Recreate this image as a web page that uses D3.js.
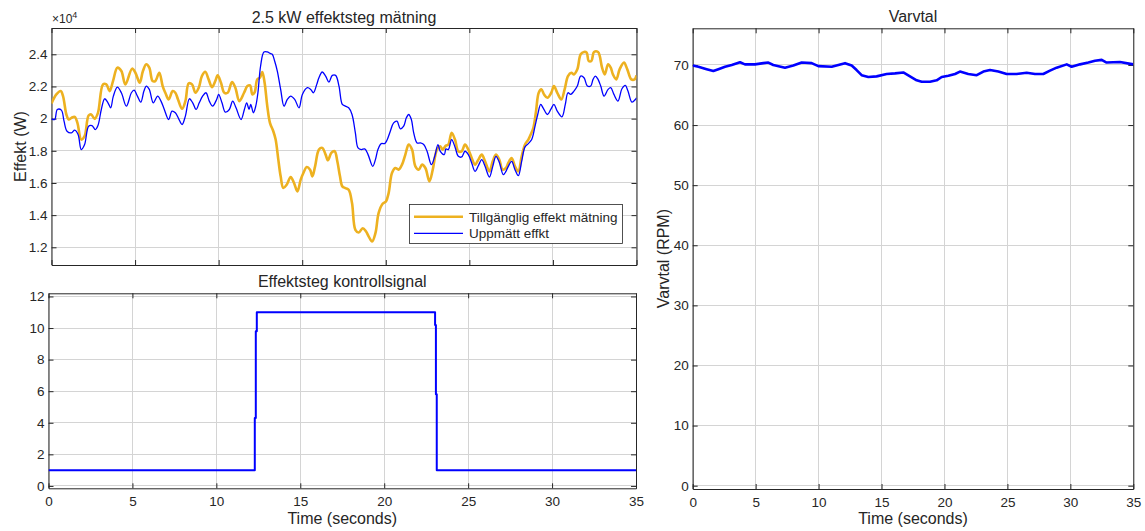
<!DOCTYPE html>
<html><head><meta charset="utf-8">
<script src="https://cdn.jsdelivr.net/npm/d3@7"></script>
<style>
body{margin:0;background:#fff}
svg{display:block}
text{font-family:"Liberation Sans",Arial,Helvetica,sans-serif;fill:#262626}
</style>
</head><body><svg id="c" width="1145" height="531"></svg>
<script>
// ---------- data ----------
const timeTicks=[0,5,10,15,20,25,30,35];
const effektTicks=[12000,14000,16000,18000,20000,22000,24000];
const effektTickLabels=["1.2","1.4","1.6","1.8","2","2.2","2.4"];
const controlTicks=[0,2,4,6,8,10,12];
const rpmTicks=[0,10,20,30,40,50,60,70];

const availTime=[0,0.29,0.55,0.69,0.89,1.03,1.19,1.39,1.55,1.78,1.98,2.22,2.38,2.58,2.78,3.08,3.28,3.48,3.68,3.94,4.18,4.42,4.82,5.02,5.28,5.47,5.67,5.85,6.05,6.21,6.45,6.65,6.81,7.01,7.25,7.41,7.57,7.81,8.01,8.21,8.41,8.61,8.81,9.00,9.20,9.40,9.60,9.80,9.94,10.14,10.34,10.54,10.80,11.00,11.24,11.52,11.72,11.88,12.02,12.16,12.31,12.47,12.61,12.75,12.91,13.07,13.27,13.41,13.57,13.71,13.87,14.07,14.31,14.51,14.71,14.91,15.07,15.27,15.47,15.61,15.77,16.00,16.20,16.40,16.54,16.74,16.94,17.10,17.26,17.40,17.58,17.78,17.98,18.18,18.38,18.62,18.82,18.98,19.18,19.38,19.57,19.81,20.01,20.17,20.37,20.57,20.77,20.97,21.17,21.37,21.57,21.77,21.97,22.17,22.37,22.61,22.81,23.06,23.26,23.40,23.60,23.74,23.94,24.14,24.34,24.54,24.74,24.94,25.14,25.34,25.54,25.74,25.94,26.20,26.40,26.59,26.79,26.99,27.19,27.33,27.53,27.73,27.93,28.13,28.33,28.53,28.67,28.83,28.99,29.15,29.31,29.47,29.67,29.90,30.06,30.26,30.50,30.70,30.90,31.10,31.26,31.46,31.66,31.86,32.02,32.14,32.30,32.46,32.70,32.80,32.94,33.10,33.30,33.46,33.59,33.79,33.99,34.25,34.45,34.69,34.89,35.00];
const availPower=[20950,21505,21713,21401,20258,19946,20050,20112,19738,18699,18906,20196,20258,19988,20362,22129,22129,21713,22337,23168,22960,22129,23106,22856,22233,22960,23376,23168,22337,22337,22856,22025,21609,21193,21713,21609,21193,20611,21089,22191,22129,21609,21921,22649,22919,22441,21962,22337,22690,22233,21609,21609,22274,21921,21089,21609,22025,22066,21505,21651,22441,22545,22898,22233,20777,19738,19218,18699,17451,16411,15684,15892,16370,15996,15476,16204,16619,16994,16827,16411,17035,18075,18179,17763,17409,17867,17971,17347,16411,15788,15684,15580,14748,13085,12919,13189,12981,12669,12357,12877,14125,14707,14852,15372,16619,16931,16827,17139,17763,18387,18075,17035,16827,17139,16931,16100,16827,18075,18283,18075,18324,18387,19114,18699,17971,17971,18387,18075,17555,17139,17451,17763,17347,16723,17347,17763,17451,16827,16931,17243,17555,17035,16723,17659,18387,18699,19010,19426,20466,21609,21817,21505,21297,21609,22025,21609,21193,21817,22649,22856,22753,23064,24000,24145,24104,23584,23584,24145,24145,23896,23168,22753,23376,23168,22753,22441,23064,23480,23064,22441,22441,22690];

const measTime=[0,0.19,0.35,0.59,0.75,0.93,1.19,1.39,1.59,1.78,1.98,2.22,2.42,2.62,2.78,2.98,3.18,3.38,3.54,3.70,3.94,4.18,4.48,4.78,4.94,5.14,5.34,5.53,5.67,5.85,6.09,6.35,6.55,6.75,7.01,7.21,7.41,7.61,7.81,8.01,8.25,8.45,8.65,8.84,9.04,9.24,9.44,9.64,9.88,10.00,10.20,10.40,10.64,10.84,11.04,11.34,11.54,11.68,11.82,11.92,12.08,12.22,12.35,12.51,12.71,12.91,13.07,13.21,13.35,13.51,13.71,13.91,14.11,14.31,14.55,14.81,15.01,15.31,15.51,15.67,15.87,16.00,16.20,16.40,16.60,16.80,17.00,17.20,17.40,17.58,17.78,17.98,18.18,18.34,18.54,18.74,18.94,19.22,19.38,19.53,19.73,19.93,20.07,20.27,20.47,20.67,20.87,21.07,21.23,21.37,21.53,21.67,21.87,22.07,22.27,22.47,22.73,22.93,23.12,23.26,23.50,23.60,23.74,23.94,24.14,24.34,24.54,24.74,24.94,25.14,25.34,25.54,25.74,25.94,26.20,26.40,26.59,26.79,27.03,27.19,27.33,27.53,27.73,27.93,28.13,28.33,28.53,28.73,28.93,29.09,29.27,29.41,29.67,29.87,30.06,30.26,30.54,30.74,30.90,31.06,31.26,31.46,31.66,31.86,32.06,32.26,32.40,32.54,32.70,32.86,33.06,33.30,33.46,33.65,33.89,34.13,34.33,34.49,34.73,34.93,35.00];
const measPower=[19988,19946,20570,20528,19842,19218,19114,19281,19010,18075,18387,19530,19572,19322,19572,20570,21235,20985,20673,21401,21962,21609,20777,21609,21775,21401,21027,21713,22025,21817,20985,21401,21089,20570,19946,20466,20362,19988,19634,20154,21235,20985,20570,20985,21401,21609,21089,20777,21193,21505,20985,20403,20570,21089,20673,19946,20570,20985,20570,20881,20362,20777,21609,23272,24145,24145,24062,24000,23584,22960,21817,20777,21193,21401,21193,20673,21505,21921,21817,21609,22129,22545,22898,22649,22274,22690,22690,22025,20881,20777,20673,20258,19114,18179,18075,18116,17763,17035,17451,18075,18449,18449,18657,19218,19738,19842,19364,19530,20050,20258,19946,19114,18490,18490,18387,17971,17139,17659,18387,17971,17763,18116,18075,18699,18241,17659,17617,17971,17763,17243,16723,17077,17451,17035,16370,17035,17659,17285,16515,16723,17035,17347,16827,16453,17347,18241,18449,18699,19530,20258,20881,20673,20258,20570,20881,20466,20112,20881,21609,21505,21713,22025,22649,22545,22025,22025,22441,22649,22441,22025,21401,21817,21921,21505,21089,21858,22066,21713,21027,21193,21297];

const controlTime=[0,12.29,12.35,12.41,23.03,23.08,23.13,35];
const controlValue=[1,4.3,9.8,11,10.2,5.8,1,1];

const rpmTime=[0,0.45,1.11,1.64,2.04,2.57,3.10,3.76,4.15,4.95,5.61,6.01,6.40,7.33,7.99,8.66,9.45,9.98,11.04,12.10,12.63,13.02,13.42,13.95,14.61,15.41,16.07,16.73,17.26,17.79,18.19,18.85,19.38,19.78,20.31,20.84,21.23,21.89,22.56,23.09,23.62,24.28,24.94,25.73,26.53,27.19,27.85,28.38,28.91,29.71,30.10,30.77,31.43,31.96,32.49,32.88,33.41,33.94,35];
const rpmValue=[69.9,69.7,69.3,69.0,69.3,69.7,70.0,70.45,70.1,70.1,70.3,70.4,70.0,69.55,69.9,70.4,70.3,69.8,69.7,70.3,69.9,69.15,68.3,68.0,68.1,68.5,68.6,68.75,68.1,67.45,67.2,67.2,67.45,68.0,68.2,68.5,68.9,68.5,68.3,68.9,69.15,68.9,68.5,68.5,68.7,68.5,68.5,69.05,69.55,70.1,69.7,70.1,70.4,70.7,70.85,70.4,70.45,70.5,70.1];

const seriesNames=["Tillgänglig effekt mätning","Uppmätt effkt"];
const colAvail="#EDB120", colMeas="#0000FF";

// ---------- drawing ----------
const svg=d3.select("#c");
const TICKFS=13.5, LABFS=16, AXC="#262626", GRID="#d4d4d4";

function panel(box,xDom,yDom,xTicks,yTicks,yFmt,showXLabels,id){
  const g=svg.append("g");
  const x=d3.scaleLinear(xDom,[box.l,box.r]);
  const y=d3.scaleLinear(yDom,[box.b,box.t]);
  g.append("defs").append("clipPath").attr("id",id).append("rect")
    .attr("x",box.l).attr("y",box.t).attr("width",box.r-box.l).attr("height",box.b-box.t);
  const grid=g.append("g").attr("shape-rendering","crispEdges");
  grid.selectAll(".vx").data(xTicks).join("line")
    .attr("x1",d=>x(d)).attr("x2",d=>x(d)).attr("y1",box.t).attr("y2",box.b)
    .attr("stroke",GRID).attr("stroke-width",1);
  grid.selectAll(".hy").data(yTicks).join("line")
    .attr("x1",box.l).attr("x2",box.r).attr("y1",d=>y(d)).attr("y2",d=>y(d))
    .attr("stroke",GRID).attr("stroke-width",1);
  const axes=g.append("g");
  const style=a=>{a.attr("font-family",null).attr("font-size",TICKFS);
    a.selectAll("path,line").attr("stroke",AXC);
    a.selectAll("text").attr("fill",AXC);};
  axes.append("g").attr("transform",`translate(${box.l},0)`)
    .call(d3.axisLeft(y).tickValues(yTicks).tickSize(-5).tickSizeOuter(0).tickPadding(4).tickFormat(yFmt)).call(style);
  axes.append("g").attr("transform",`translate(${box.r},0)`)
    .call(d3.axisRight(y).tickValues(yTicks).tickSize(-5).tickSizeOuter(0).tickFormat("")).call(style);
  axes.append("g").attr("transform",`translate(0,${box.b})`)
    .call(d3.axisBottom(x).tickValues(xTicks).tickSize(-5).tickSizeOuter(0).tickPadding(8)
      .tickFormat(showXLabels?d3.format("d"):"")).call(style);
  axes.append("g").attr("transform",`translate(0,${box.t})`)
    .call(d3.axisTop(x).tickValues(xTicks).tickSize(-5).tickSizeOuter(0).tickFormat("")).call(style);
  const plot=g.append("g").attr("clip-path",`url(#${id})`);
  return {g,x,y,plot,box};
}

function drawLine(p,ts,vs,color,w,curve){
  const pts=ts.map((t,i)=>[t,vs[i]]);
  p.plot.append("path").datum(pts)
    .attr("fill","none").attr("stroke",color).attr("stroke-width",w)
    .attr("stroke-linejoin","round")
    .attr("d",d3.line().x(d=>p.x(d[0])).y(d=>p.y(d[1])).curve(curve||d3.curveLinear));
}

// Top-left
const p1=panel({l:51.5,r:636.5,t:28,b:265},[0,35],[10900,25635],timeTicks,effektTicks,
  (d,i)=>effektTickLabels[effektTicks.indexOf(d)],false,"cp1");
drawLine(p1,availTime,availPower,colAvail,2.6,d3.curveCatmullRom.alpha(0.5));
drawLine(p1,measTime,measPower,colMeas,1.3,d3.curveCatmullRom.alpha(0.5));

// Bottom-left
const p2=panel({l:48.5,r:636,t:293.3,b:488.3},[0,35],[-0.15,12.2],timeTicks,controlTicks,d3.format("d"),true,"cp2");
drawLine(p2,controlTime,controlValue,colMeas,2,d3.curveStepAfter);

// Right
const p3=panel({l:692.7,r:1133.3,t:28.3,b:489},[0,35],[-0.55,76.1],timeTicks,rpmTicks,d3.format("d"),true,"cp3");
drawLine(p3,rpmTime,rpmValue,colMeas,2.6,d3.curveLinear);

// Titles & labels
function txt(x,y,s,fs,anchor,rot){
  const t=svg.append("text").attr("x",x).attr("y",y).attr("font-size",fs)
    .attr("text-anchor",anchor||"middle").text(s);
  if(rot) t.attr("transform",`rotate(${rot},${x},${y})`);
  return t;
}
txt((51.5+636.5)/2,22.5,"2.5 kW effektsteg mätning",LABFS);
txt((48.5+636)/2,286.5,"Effektsteg kontrollsignal",LABFS);
txt((692.7+1133.3)/2,22,"Varvtal",LABFS);
txt(26,146.5,"Effekt (W)",LABFS,"middle",-90);
txt(669,258.6,"Varvtal (RPM)",LABFS,"middle",-90);
txt((48.5+636)/2,524,"Time (seconds)",LABFS);
txt((692.7+1133.3)/2,524,"Time (seconds)",LABFS);
// exponent
const ex=svg.append("text").attr("x",52).attr("y",23).attr("font-size",12).attr("text-anchor","start");
ex.append("tspan").text("×10");
ex.append("tspan").attr("dy",-5).attr("font-size",9).text("4");

// Legend
const lg=svg.append("g");
lg.append("rect").attr("x",409.5).attr("y",204.5).attr("width",213).attr("height",39)
  .attr("fill","#fff").attr("stroke",AXC).attr("stroke-width",0.8);
const legendRows=[{name:seriesNames[0],c:colAvail,w:2.6,y:216.7},{name:seriesNames[1],c:colMeas,w:1.3,y:233.3}];
legendRows.forEach(r=>{
  lg.append("line").attr("x1",414).attr("x2",463).attr("y1",r.y).attr("y2",r.y)
    .attr("stroke",r.c).attr("stroke-width",r.w);
  lg.append("text").attr("x",469).attr("y",r.y+4.8).attr("font-size",13.5).text(r.name);
});
</script>
</body></html>
